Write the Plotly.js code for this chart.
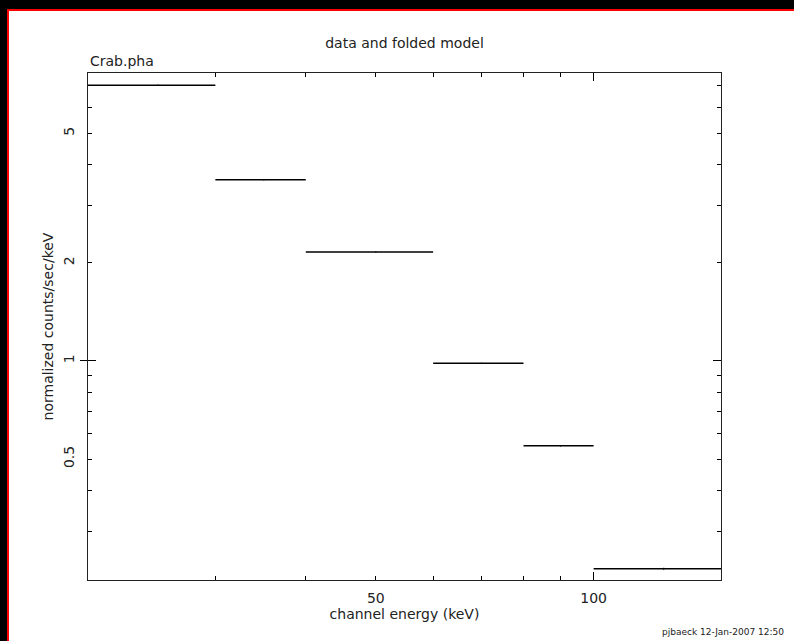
<!DOCTYPE html>
<html>
<head>
<meta charset="utf-8">
<script src="https://cdn.plot.ly/plotly-3.0.1.min.js"></script>
<style>
html,body{margin:0;padding:0;background:#000;width:794px;height:641px;overflow:hidden}
#frame{position:absolute;left:7px;top:9px;width:787px;height:632px;border-left:2px solid #f00;border-top:2px solid #f00;box-sizing:border-box;background:#fff}
#chart{position:absolute;left:0;top:0;width:785px;height:630px}
</style>
</head>
<body>
<div id="frame"><div id="chart"></div></div>
<script>
// channel energy bins (keV)
const binLo = [20, 30, 40, 60, 80, 100];
const binHi = [30, 40, 60, 80, 100, 150];
// normalized counts/sec/keV
const rate = [7.03, 3.60, 2.16, 0.984, 0.549, 0.230];
const rateErr = [0.03, 0.015, 0.008, 0.004, 0.003, 0.002];

// tick labels
const yTickVals = [0.5, 1, 2, 5];
const yTickText = ['0.5', '1', '2', '5'];
const yMinorVals = [0.3, 0.4, 0.6, 0.7, 0.8, 0.9, 3, 4, 6, 7];
const yMajorVals = [1];
const xTickVals = [50, 100];
const xTickText = ['50', '100'];
const xMinorVals = [30, 40, 60, 70, 80, 90];
const xMajorVals = [100];

const yRange = [0.2126, 7.66];

const xc = binLo.map((lo, i) => (lo + binHi[i]) / 2);
const errPlus = binHi.map((hi, i) => hi - xc[i]);
const errMinus = binLo.map((lo, i) => xc[i] - lo);

const xr = [Math.log10(binLo[0]), Math.log10(binHi[binHi.length - 1])];
const yr = yRange.map(v => Math.log10(v));

const FONT = 'DejaVu Sans';
const TXT = '#222';

const traces = [
  {
    type: 'scatter', mode: 'markers', x: xc, y: rate,
    marker: {size: 1, color: '#000'},
    error_x: {type: 'data', symmetric: false, array: errPlus, arrayminus: errMinus, width: 0, thickness: 1.5, color: '#000'},
    error_y: {type: 'data', array: rateErr, width: 0, thickness: 1, color: '#555'},
    showlegend: false, hoverinfo: 'skip'
  },
  {type: 'scatter', x: [], y: [], xaxis: 'x2', yaxis: 'y2', showlegend: false},
  {type: 'scatter', x: [], y: [], xaxis: 'x', yaxis: 'y3', showlegend: false}
];

const baseAxis = {
  type: 'log', showgrid: false, zeroline: false, fixedrange: true
};

const layout = {
  width: 785, height: 630,
  margin: {l: 79, r: 73, t: 62, b: 61},
  paper_bgcolor: '#fff', plot_bgcolor: '#fff',
  font: {family: FONT, size: 14, color: TXT},
  showlegend: false,
  title: {text: 'data and folded model', x: 0.5, xref: 'paper', xanchor: 'center',
          y: 1 - 32 / 630, yref: 'container', yanchor: 'middle',
          font: {family: FONT, size: 14, color: TXT}},
  xaxis: Object.assign({}, baseAxis, {
    range: xr, showline: true, linecolor: '#222', linewidth: 1.2, mirror: 'ticks',
    ticks: 'inside', ticklen: 4, tickcolor: '#000', tickwidth: 1,
    tickmode: 'array', tickvals: xTickVals, ticktext: xTickText,
    tickfont: {family: FONT, size: 14, color: TXT}, ticklabelstandoff: 5,
    minor: {tickmode: 'array', tickvals: xMinorVals, ticks: 'inside', ticklen: 4, tickcolor: '#000', tickwidth: 1},
    title: {text: 'channel energy (keV)', font: {family: FONT, size: 14, color: TXT}, standoff: 4}
  }),
  yaxis: Object.assign({}, baseAxis, {
    range: yr, showline: true, linecolor: '#222', linewidth: 1.2, mirror: 'ticks',
    ticks: 'inside', ticklen: 4, tickcolor: '#000', tickwidth: 1,
    tickmode: 'array', tickvals: yTickVals, ticktext: yTickText, tickangle: -90,
    tickfont: {family: FONT, size: 14, color: TXT}, ticklabelstandoff: 7,
    minor: {tickmode: 'array', tickvals: yMinorVals, ticks: 'inside', ticklen: 4, tickcolor: '#000', tickwidth: 1},
    title: {text: 'normalized counts/sec/keV', font: {family: FONT, size: 14, color: TXT}, standoff: 4}
  }),
  xaxis2: Object.assign({}, baseAxis, {
    range: xr, overlaying: 'x', anchor: 'y2', side: 'bottom', showline: false, mirror: 'ticks',
    ticks: 'inside', ticklen: 8, tickcolor: '#000', tickwidth: 1,
    tickmode: 'array', tickvals: xMajorVals, showticklabels: false
  }),
  yaxis2: Object.assign({}, baseAxis, {
    range: yr, overlaying: 'y', anchor: 'x2', side: 'left', showline: false, mirror: 'ticks',
    ticks: 'inside', ticklen: 8, tickcolor: '#000', tickwidth: 1,
    tickmode: 'array', tickvals: yMajorVals, showticklabels: false
  }),
  yaxis3: Object.assign({}, baseAxis, {
    range: yr, overlaying: 'y', anchor: 'x', side: 'left', showline: false,
    ticks: 'outside', ticklen: 7, tickcolor: '#000', tickwidth: 1,
    tickmode: 'array', tickvals: yMajorVals, showticklabels: false
  }),
  annotations: [
    {text: 'Crab.pha', xref: 'paper', yref: 'paper', x: 0, y: 1, xanchor: 'left', yanchor: 'middle',
     yshift: 12, showarrow: false, font: {family: FONT, size: 14, color: TXT}},
    {text: 'pjbaeck 12-Jan-2007 12:50', xref: 'paper', yref: 'paper', x: 1, y: 0, xanchor: 'left', yanchor: 'middle',
     xshift: -61, yshift: -52, showarrow: false, font: {family: FONT, size: 9, color: TXT}}
  ]
};

Plotly.newPlot('chart', traces, layout, {staticPlot: true, displayModeBar: false});
</script>
</body>
</html>
